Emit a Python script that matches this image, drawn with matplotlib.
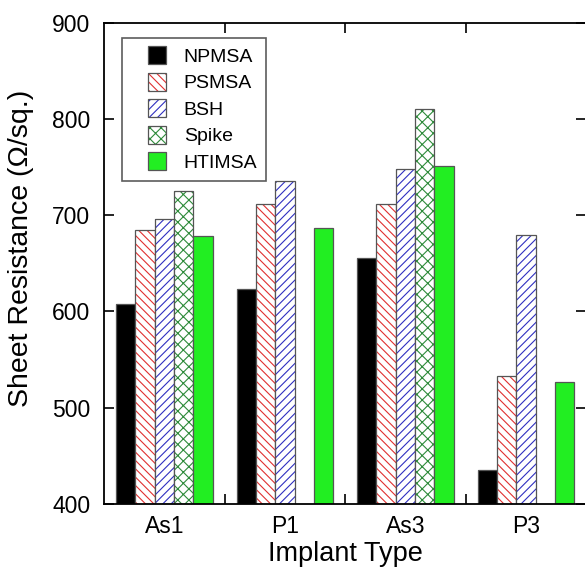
import matplotlib
matplotlib.use("Agg")
import matplotlib.pyplot as plt
from matplotlib.patches import Rectangle
from matplotlib.legend_handler import HandlerPatch
import numpy as np

plt.rcParams['font.family'] = ['Liberation Sans', 'DejaVu Sans']
plt.rcParams['hatch.linewidth'] = 0.8

# data
implants = ["As1", "P1", "As3", "P3"]
series = ["NPMSA", "PSMSA", "BSH", "Spike", "HTIMSA"]
npmsa = [608, 623, 655, 435]
psmsa = [685, 712, 712, 533]
bsh = [696, 736, 748, 679]
spike = [725, np.nan, 810, np.nan]
htimsa = [678, 687, 751, 527]

values = [npmsa, psmsa, bsh, spike, htimsa]
faces = ["black", "white", "white", "white", "#22ee22"]
hatch_cols = [None, "#e03030", "#3030c0", "#2e8b3a", None]
hatches = [None, "\\\\\\\\", "////", "xxx", None]

fig = plt.figure(figsize=(5.85, 5.68), dpi=100)
ax = fig.add_axes([0.178, 0.113, 0.824, 0.847])

x = np.arange(len(implants))
w = 0.16
handles = []
for i, (vals, fc, hc, h) in enumerate(zip(values, faces, hatch_cols, hatches)):
    pos = x + (i - 2) * w
    vals = np.array(vals, dtype=float)
    ok = ~np.isnan(vals)
    heights = vals[ok] - 400
    if h is not None:
        # hatch drawn in its own colour, grey outline drawn on top
        b1 = ax.bar(pos[ok], heights, w, bottom=400, facecolor=fc, edgecolor=hc,
                    hatch=h, linewidth=0)
        b2 = ax.bar(pos[ok], heights, w, bottom=400, facecolor="none",
                    edgecolor="#555555", linewidth=0.9)
        handles.append((b1[0], b2[0]))
    else:
        b = ax.bar(pos[ok], heights, w, bottom=400, facecolor=fc,
                   edgecolor="#555555", linewidth=0.9)
        handles.append(b[0])

ax.set_xlim(-0.5, 3.5)
ax.set_ylim(400, 900)
ax.set_yticks(np.arange(400, 901, 100))
ax.set_xticks(x)
ax.set_xticklabels(implants)
ax.set_xticks([0.5, 1.5, 2.5], minor=True)
ax.tick_params(axis='x', which='major', length=0, labelsize=16.5, pad=8)
ax.tick_params(axis='x', which='minor', direction='in', length=7, width=1.2,
               top=True, bottom=True)
ax.tick_params(axis='y', direction='in', length=7, width=1.2, labelsize=16.5,
               left=True, right=True, pad=10)
for s in ax.spines.values():
    s.set_linewidth(1.3)

ax.set_xlabel("Implant Type", fontsize=19.5, labelpad=2)
fig.text(21 / 585, 1 - 248 / 568, "Sheet Resistance (Ω/sq.)", fontsize=20.5,
         rotation=90, ha="center", va="center")


# small square legend keys sitting right of an empty gap
def square_key(legend, orig_handle, xdescent, ydescent, width, height, fontsize):
    size = 13
    return Rectangle((-xdescent + width - size - 5.6, -ydescent + (height - size) / 2),
                     size, size)


leg = ax.legend(handles, series, loc="upper left", bbox_to_anchor=(0.038, 0.968),
                fontsize=14, frameon=True, fancybox=False, edgecolor="#333333",
                handlelength=2.2, handleheight=0.95, handletextpad=0.5,
                labelspacing=0.38, borderpad=0.45, borderaxespad=0,
                handler_map={Rectangle: HandlerPatch(patch_func=square_key)})
leg.get_frame().set_linewidth(1.2)

fig.savefig("out.png", dpi=100)
